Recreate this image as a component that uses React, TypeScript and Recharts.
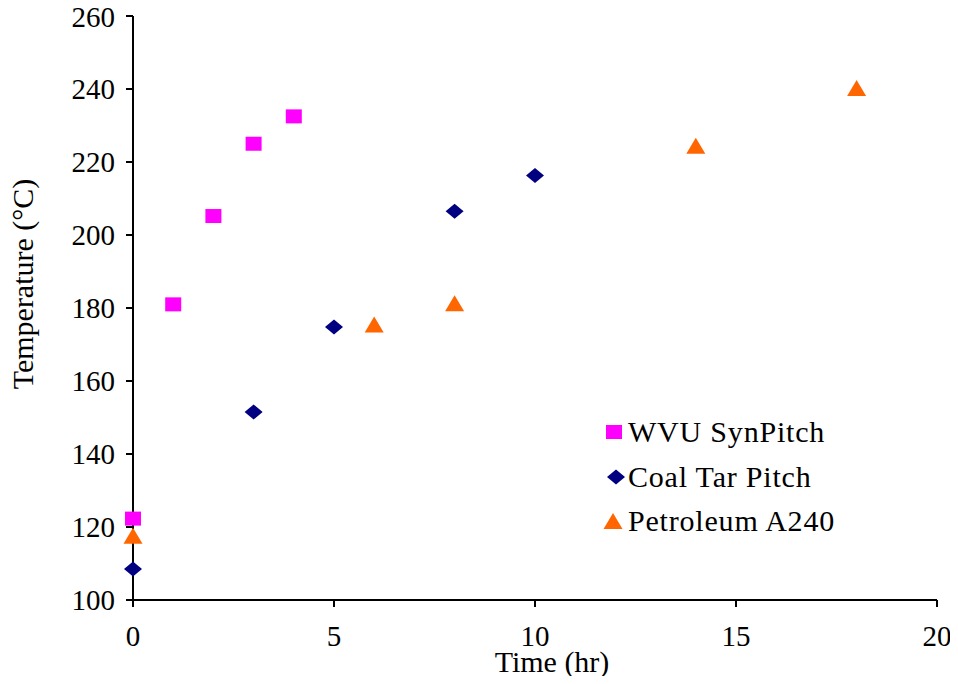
import { ScatterChart, Scatter, XAxis, YAxis, Label } from 'recharts'

const synPitch = [
  { time: 0, temp: 122.3 },
  { time: 1, temp: 181 },
  { time: 2, temp: 205.2 },
  { time: 3, temp: 225 },
  { time: 4, temp: 232.5 },
]

const coalTar = [
  { time: 0, temp: 108.5 },
  { time: 3, temp: 151.5 },
  { time: 5, temp: 174.8 },
  { time: 8, temp: 206.5 },
  { time: 10, temp: 216.3 },
]

const petroleum = [
  { time: 0, temp: 117.3 },
  { time: 6, temp: 175.2 },
  { time: 8, temp: 181 },
  { time: 14, temp: 224.2 },
  { time: 18, temp: 240 },
]

const xTicks = [0, 5, 10, 15, 20]
const yTicks = [100, 120, 140, 160, 180, 200, 220, 240, 260]

const FONT = '"Liberation Serif", "Times New Roman", serif'
const FS = 29
const PINK = '#ff00ff'
const NAVY = '#000080'
const ORANGE = '#ff6600'

const Square = (props: any) => {
  const { cx, cy } = props
  return <rect x={cx - 8} y={cy - 7} width={16} height={14} fill={PINK} />
}

const Diamond = (props: any) => {
  const { cx, cy } = props
  return (
    <polygon
      points={`${cx - 9},${cy} ${cx},${cy - 7.5} ${cx + 9},${cy} ${cx},${cy + 7.5}`}
      fill={NAVY}
    />
  )
}

const Triangle = (props: any) => {
  const { cx, cy } = props
  return (
    <polygon
      points={`${cx - 9.5},${cy + 7} ${cx},${cy - 9} ${cx + 9.5},${cy + 7}`}
      fill={ORANGE}
    />
  )
}

const legendItems = [
  { name: 'WVU SynPitch', icon: 'square' },
  { name: 'Coal Tar Pitch', icon: 'diamond' },
  { name: 'Petroleum A240', icon: 'triangle' },
]

function LegendBox() {
  return (
    <div
      style={{
        fontFamily: FONT,
        fontSize: FS + 1,
        color: '#000',
        lineHeight: 1,
        letterSpacing: 0.8,
      }}
    >
      {legendItems.map((it) => (
        <div
          key={it.name}
          style={{ display: 'flex', alignItems: 'center', height: 44.5 }}
        >
          <svg width={28} height={20}>
            {it.icon === 'square' && <Square cx={14} cy={10} />}
            {it.icon === 'diamond' && <Diamond cx={16} cy={10} />}
            {it.icon === 'triangle' && <Triangle cx={13} cy={11} />}
          </svg>
          <span>{it.name}</span>
        </div>
      ))}
    </div>
  )
}

const YTitle = () => (
  <text
    x={33}
    y={284}
    transform="rotate(-90 33 284)"
    textAnchor="middle"
    fill="#000"
    fontSize={FS + 1}
    fontFamily={FONT}
  >
    Temperature (°C)
  </text>
)

const XTitle = () => (
  <text
    x={552}
    y={672}
    textAnchor="middle"
    fill="#000"
    fontSize={FS + 1}
    fontFamily={FONT}
  >
    Time (hr)
  </text>
)

export default function App() {
  const tickStyle = { fill: '#000', fontSize: FS, fontFamily: FONT }
  return (
    <div style={{ position: 'relative', margin: -8, width: 958, height: 684 }}>
      <ScatterChart
        width={958}
        height={684}
        margin={{ top: 16, right: 21, left: 60, bottom: 0 }}
      >
        <XAxis
          type="number"
          dataKey="time"
          domain={[0, 20]}
          ticks={xTicks}
          stroke="#000"
          strokeWidth={2}
          tickSize={7}
          tickMargin={18}
          tick={tickStyle}
          height={84}
        >
          <Label content={XTitle} />
        </XAxis>
        <XAxis
          xAxisId="top"
          orientation="top"
          type="number"
          dataKey="time"
          domain={[0, 20]}
          tick={false}
          tickLine={false}
          stroke="#000"
          strokeWidth={2}
          height={0}
        />
        <YAxis
          type="number"
          dataKey="temp"
          domain={[100, 260]}
          ticks={yTicks}
          stroke="#000"
          strokeWidth={2}
          tickSize={7}
          tickMargin={11}
          tick={tickStyle}
          width={73}
        >
          <Label content={YTitle} />
        </YAxis>
        <YAxis
          yAxisId="right"
          orientation="right"
          type="number"
          dataKey="temp"
          domain={[100, 260]}
          tick={false}
          tickLine={false}
          stroke="#000"
          strokeWidth={2}
          width={0}
        />
        <Scatter data={synPitch} shape={Square} isAnimationActive={false} />
        <Scatter data={coalTar} shape={Diamond} isAnimationActive={false} />
        <Scatter data={petroleum} shape={Triangle} isAnimationActive={false} />
      </ScatterChart>
      <div style={{ position: 'absolute', left: 600, top: 410 }}>
        <LegendBox />
      </div>
    </div>
  )
}
